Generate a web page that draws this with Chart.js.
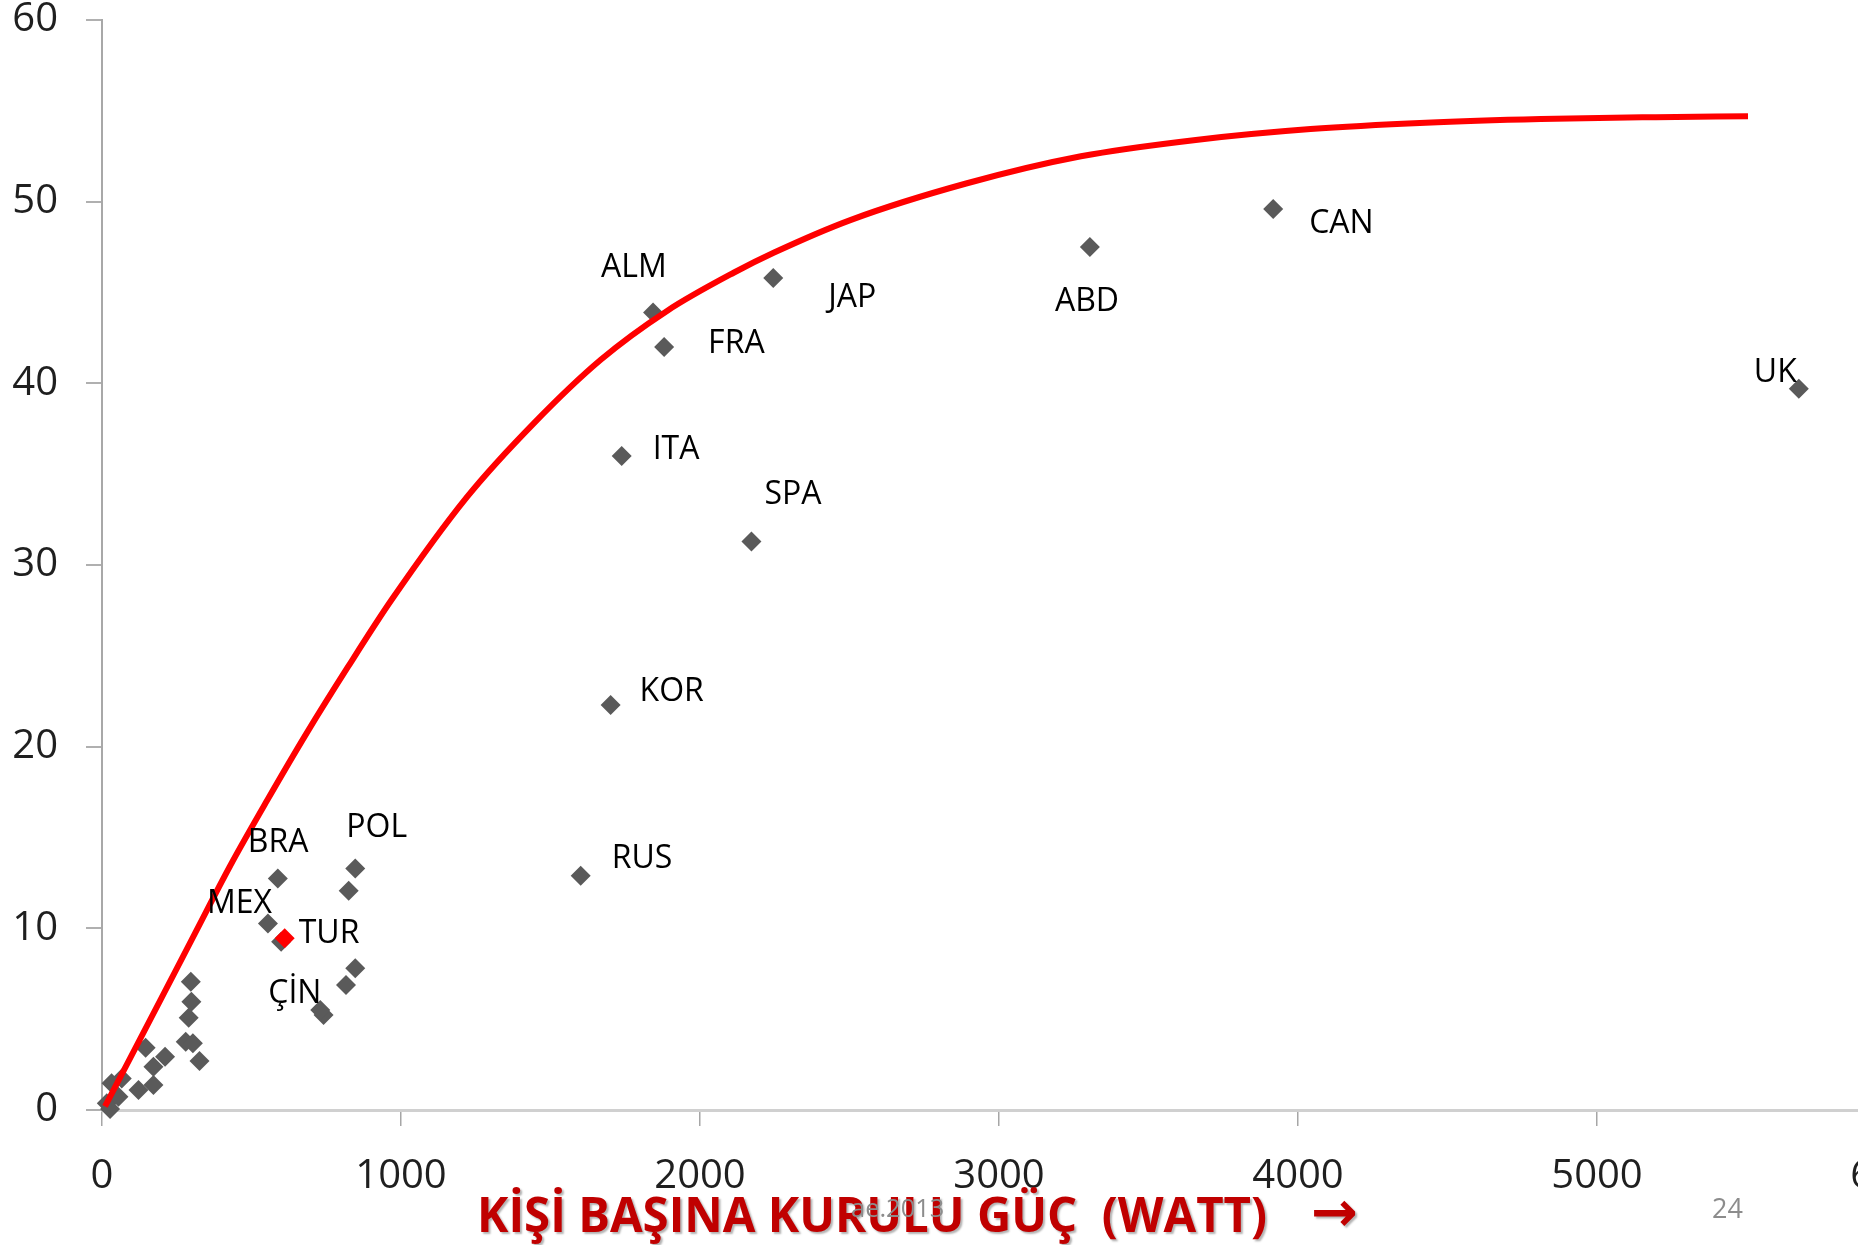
<!DOCTYPE html>
<html>
<head>
<meta charset="utf-8">
<title>Kişi başına kurulu güç</title>
<script src="https://cdn.jsdelivr.net/npm/chart.js@4.4.1/dist/chart.umd.min.js"></script>
<style>
    html, body { margin: 0; padding: 0; background: #fff; overflow: hidden; }
    #wrap { position: relative; width: 1858px; height: 1245px; overflow: hidden; }
    #chart { position: absolute; left: 0; top: 0; }
    .note { position: absolute; line-height: 1; white-space: pre; font-family: 'Open Sans', sans-serif; transform-origin: 0 0; }
    #axisTitle { left: 477px; top: 1190px; font-size: 48px; font-weight: 700; color: #c00000; text-shadow: 2px 2px 2px rgba(0, 0, 0, 0.3); }
    #arrow { left: 1311px; top: 1184px; font-size: 56px; font-weight: 700; color: #c00000; text-shadow: 2px 2px 2px rgba(0, 0, 0, 0.3); font-family: 'DejaVu Sans', sans-serif; }
    #stamp { left: 851px; top: 1194px; font-size: 26px; color: #8c8c8c; }
    #page { left: 1712px; top: 1194px; font-size: 27px; color: #8c8c8c; }
</style>
</head>
<body>
<div id="wrap">
    <canvas id="chart" width="1906" height="1245"></canvas>
    <div class="note" id="axisTitle">KİŞİ BAŞINA KURULU GÜÇ  (WATT)</div>
    <div class="note" id="arrow">→</div>
    <div class="note" id="stamp">ae.2013</div>
    <div class="note" id="page">24</div>
</div>
<script>
    // Labelled countries (watt per person, value)
    const countryNames = ['ALM', 'FRA', 'JAP', 'ITA', 'SPA', 'KOR', 'RUS', 'BRA', 'POL', 'MEX', 'ÇİN', 'ABD', 'CAN', 'UK'];
    const countryWatt = [1843, 1880, 2245, 1738, 2172, 1701, 1601, 588, 847, 555, 730, 3304, 3917, 5675];
    const countryValue = [43.9, 42.0, 45.8, 36.0, 31.3, 22.3, 12.9, 12.75, 13.3, 10.27, 5.5, 47.5, 49.6, 39.7];

    // Turkey, drawn red
    const turNames = ['TUR'];
    const turWatt = [611];
    const turValue = [9.45];

    // Unlabelled countries
    const otherWatt = [16, 27, 32, 55, 66, 122, 146, 172, 172, 211, 280, 304, 326, 290, 299, 297, 599, 825, 741, 816, 847];
    const otherValue = [0.37, 0.05, 1.47, 0.73, 1.74, 1.1, 3.43, 1.38, 2.38, 2.93, 3.76, 3.67, 2.7, 5.08, 5.96, 7.06, 9.26, 12.07, 5.23, 6.88, 7.8];

    // Red trend curve
    const curveWatt = [10, 200, 311, 427, 553, 684, 823, 968, 1221, 1444, 1668, 1891, 2114, 2248, 2505, 2890, 3274, 3658, 4042, 4427, 4812, 5197, 5505];
    const curveValue = [0.2, 6.2, 9.72, 13.39, 17.06, 20.73, 24.4, 28.07, 33.75, 37.8, 41.3, 44.0, 46.1, 47.2, 49.0, 51.0, 52.5, 53.4, 54.0, 54.35, 54.55, 54.65, 54.7];

    const xTickValues = [0, 1000, 2000, 3000, 4000, 5000, 6000];
    const yTickValues = [0, 10, 20, 30, 40, 50, 60];

    const FONT = "'Open Sans', sans-serif";

    function toPoints(xs, ys) {
        return xs.map((x, i) => ({ x: x, y: ys[i] }));
    }

    // Draws the country names next to their points
    const pointLabels = {
        id: 'pointLabels',
        afterDatasetsDraw(chart, args, opts) {
            const ctx = chart.ctx;
            ctx.save();
            ctx.font = opts.font;
            ctx.fillStyle = opts.color;
            ctx.textAlign = 'left';
            ctx.textBaseline = 'alphabetic';
            chart.data.datasets.forEach((ds, di) => {
                if (!ds.names) return;
                const meta = chart.getDatasetMeta(di);
                ds.names.forEach((name, i) => {
                    const pt = meta.data[i];
                    const off = opts.offsets[name] || [10, -10];
                    ctx.fillText(name, pt.x + off[0], pt.y + off[1]);
                });
            });
            ctx.restore();
        }
    };

    const ctx = document.getElementById('chart');
    new Chart(ctx, {
        type: 'scatter',
        data: {
            datasets: [
                {
                    data: toPoints(curveWatt, curveValue),
                    showLine: true,
                    borderColor: '#ff0000',
                    borderWidth: 6,
                    pointRadius: 0,
                    cubicInterpolationMode: 'monotone',
                    fill: false
                },
                {
                    data: toPoints(turWatt, turValue),
                    names: turNames,
                    pointStyle: 'rectRot',
                    pointRadius: 10,
                    backgroundColor: '#ff0000',
                    borderWidth: 0,
                    clip: false
                },
                {
                    data: toPoints(countryWatt, countryValue),
                    names: countryNames,
                    pointStyle: 'rectRot',
                    pointRadius: 10,
                    backgroundColor: '#5a5a5a',
                    borderWidth: 0,
                    clip: false
                },
                {
                    data: toPoints(otherWatt, otherValue),
                    pointStyle: 'rectRot',
                    pointRadius: 10,
                    backgroundColor: '#5a5a5a',
                    borderWidth: 0,
                    clip: false
                }
            ]
        },
        options: {
            responsive: false,
            animation: false,
            layout: { padding: { top: 20, left: 0, right: 0, bottom: 0 } },
            plugins: {
                legend: { display: false },
                tooltip: { enabled: false },
                pointLabels: {
                    font: '32px ' + FONT,
                    color: '#000',
                    offsets: {
                        ALM: [-52, -35], FRA: [44, 6], JAP: [55, 29], ITA: [31, 3],
                        SPA: [13, -37], KOR: [29, -4], RUS: [31, -8], BRA: [-30, -26],
                        POL: [-9, -31], MEX: [-61, -10], TUR: [14, 5], 'ÇİN': [-52, -7],
                        ABD: [-35, 64], CAN: [36, 24], UK: [-45, -7]
                    }
                }
            },
            scales: {
                x: {
                    type: 'linear',
                    min: 0,
                    max: 6000,
                    afterBuildTicks: s => { s.ticks = xTickValues.map(v => ({ value: v })); },
                    afterFit: s => { s.height = 135; s.paddingLeft = 0; s.paddingRight = 0; },
                    ticks: {
                        font: { family: FONT, size: 40 },
                        color: '#1f1f1f',
                        padding: 27,
                        maxRotation: 0,
                        callback: v => String(v)
                    },
                    grid: { drawOnChartArea: false, drawTicks: true, tickLength: 16, color: '#a6a6a6', lineWidth: 1.5 },
                    border: { color: '#d0d0d0', width: 3 }
                },
                y: {
                    type: 'linear',
                    min: 0,
                    max: 60,
                    afterBuildTicks: s => { s.ticks = yTickValues.map(v => ({ value: v })); },
                    afterFit: s => { s.width = 102; s.paddingTop = 0; s.paddingBottom = 0; },
                    ticks: { font: { family: FONT, size: 40 }, color: '#1f1f1f', padding: 28, callback: v => String(v) },
                    grid: { drawOnChartArea: false, drawTicks: true, tickLength: 16, color: '#b0b0b0', lineWidth: 2 },
                    border: { color: '#a8a8a8', width: 2 }
                }
            }
        },
        plugins: [pointLabels]
    });

    // squeeze the bottom texts to the widths seen in the slide
    function fitWidth(id, w) {
        const el = document.getElementById(id);
        el.style.transform = 'scaleX(' + (w / el.offsetWidth) + ')';
    }
    fitWidth('axisTitle', 790);
    fitWidth('stamp', 93);
</script>
</body>
</html>
